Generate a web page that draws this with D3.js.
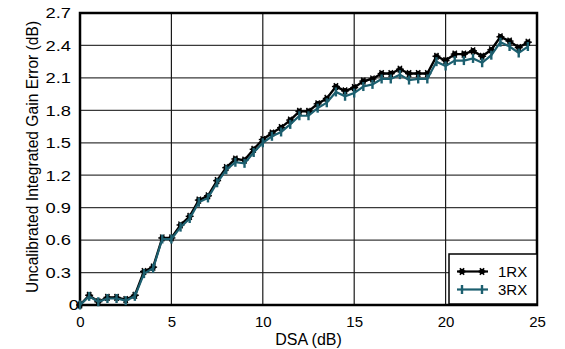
<!DOCTYPE html>
<html>
<head>
<meta charset="utf-8">
<script src="https://cdn.jsdelivr.net/npm/d3@7"></script>
<style>
  body { margin: 0; background: #fff; }
  text { font-family: "Liberation Sans", Arial, sans-serif; fill: #000; }
</style>
</head>
<body>
<svg id="chart"></svg>
<script>
var width = 565;
var height = 349;
var margin = {left: 80, right: 28, top: 13, bottom: 44};

// DSA settings (dB)
var dsa = [0, 0.5, 1, 1.5, 2, 2.5, 3, 3.5, 4, 4.5, 5, 5.5, 6, 6.5, 7, 7.5, 8, 8.5, 9, 9.5,
           10, 10.5, 11, 11.5, 12, 12.5, 13, 13.5, 14, 14.5, 15, 15.5, 16, 16.5, 17, 17.5, 18, 18.5, 19, 19.5,
           20, 20.5, 21, 21.5, 22, 22.5, 23, 23.5, 24, 24.5];
var rx1 = [0, 0.09, 0.03, 0.07, 0.07, 0.05, 0.09, 0.31, 0.35, 0.62, 0.62, 0.74, 0.82, 0.97, 1.01, 1.15, 1.27, 1.35, 1.34, 1.44,
           1.53, 1.59, 1.64, 1.71, 1.79, 1.79, 1.86, 1.91, 2.02, 1.98, 2.01, 2.07, 2.09, 2.14, 2.14, 2.18, 2.14, 2.14, 2.14, 2.30,
           2.26, 2.32, 2.32, 2.35, 2.30, 2.36, 2.48, 2.44, 2.38, 2.43];
var rx3 = [0, 0.08, 0.03, 0.06, 0.06, 0.04, 0.08, 0.29, 0.34, 0.61, 0.61, 0.72, 0.80, 0.95, 0.99, 1.13, 1.25, 1.32, 1.31, 1.41,
           1.50, 1.56, 1.60, 1.67, 1.75, 1.75, 1.82, 1.87, 1.97, 1.93, 1.96, 2.02, 2.04, 2.09, 2.09, 2.13, 2.08, 2.09, 2.09, 2.25,
           2.21, 2.26, 2.26, 2.28, 2.24, 2.31, 2.43, 2.39, 2.33, 2.39];
var xTicks = [0, 5, 10, 15, 20, 25];
var yTicks = [0, 0.3, 0.6, 0.9, 1.2, 1.5, 1.8, 2.1, 2.4, 2.7];
var seriesNames = ["1RX", "3RX"];
var colors = {"1RX": "#000000", "3RX": "#1c5f6f"};

var svg = d3.select("#chart").attr("width", width).attr("height", height);

var x = d3.scaleLinear().domain([0, 25]).range([margin.left, width - margin.right]);
var y = d3.scaleLinear().domain([0, 2.7]).range([height - margin.bottom, margin.top]);

// grid lines
svg.append("g")
    .selectAll("line")
    .data(yTicks)
    .enter()
    .append("line")
    .attr("x1", x(0)).attr("x2", x(25))
    .attr("y1", function (d) { return y(d); })
    .attr("y2", function (d) { return y(d); })
    .attr("stroke", "#3a3a3a").attr("stroke-width", 1.2);
svg.append("g")
    .selectAll("line")
    .data(xTicks)
    .enter()
    .append("line")
    .attr("y1", y(0)).attr("y2", y(2.7))
    .attr("x1", function (d) { return x(d); })
    .attr("x2", function (d) { return x(d); })
    .attr("stroke", "#1a1a1a").attr("stroke-width", 1.2);

// axes (labels only)
var xAxis = d3.axisBottom(x).tickValues(xTicks).tickSize(0).tickPadding(11).tickFormat(d3.format("d"));
var yAxis = d3.axisLeft(y).tickValues(yTicks).tickSize(0).tickPadding(9)
    .tickFormat(function (d) { return d === 0 ? "0" : d3.format(".1f")(d); });

svg.append("g").attr("transform", "translate(0," + y(0) + ")").call(xAxis)
    .call(function (g) { g.select(".domain").remove(); })
    .selectAll("text").attr("font-size", 15).attr("font-family", "Liberation Sans, Arial, sans-serif");

var yg = svg.append("g").attr("transform", "translate(" + x(0) + ",0)").call(yAxis);
yg.select(".domain").remove();
yg.selectAll("text")
    .attr("font-size", 15).attr("font-family", "Liberation Sans, Arial, sans-serif")
    .attr("x", function (d) { return d === 0 ? -1 : -9; })
    .each(function () {
        // the reference labels are drawn a bit wider than the plain font
        var w = this.getComputedTextLength();
        d3.select(this).attr("textLength", w * 1.22).attr("lengthAdjust", "spacingAndGlyphs");
    });

// plot frame
svg.append("rect")
    .attr("x", x(0)).attr("y", y(2.7))
    .attr("width", x(25) - x(0)).attr("height", y(0) - y(2.7))
    .attr("fill", "none").attr("stroke", "#000").attr("stroke-width", 2.5);

// axis titles
svg.append("text")
    .attr("x", (x(0) + x(25)) / 2).attr("y", 345)
    .attr("text-anchor", "middle").attr("font-size", 16)
    .text("DSA (dB)");
svg.append("text")
    .attr("transform", "translate(38," + (y(1.35) - 2) + ") rotate(-90)")
    .attr("text-anchor", "middle").attr("font-size", 15.6)
    .text("Uncalibrated Integrated Gain Error (dB)");

var line = d3.line()
    .x(function (d) { return x(d[0]); })
    .y(function (d) { return y(d[1]); });

var data1 = dsa.map(function (d, i) { return [d, rx1[i]]; });
var data3 = dsa.map(function (d, i) { return [d, rx3[i]]; });

// marker drawers
function starMarker(g, cx, cy) {
    g.append("circle").attr("cx", cx).attr("cy", cy).attr("r", 2.8).attr("fill", "#000");
    [0, 60, 120].forEach(function (a) {
        var r = a * Math.PI / 180, dx = Math.cos(r) * 4, dy = Math.sin(r) * 4;
        g.append("line").attr("x1", cx - dx).attr("x2", cx + dx).attr("y1", cy - dy).attr("y2", cy + dy)
            .attr("stroke", "#000").attr("stroke-width", 1.4);
    });
}
function tickMarker(g, cx, cy, color) {
    g.append("line").attr("x1", cx).attr("x2", cx).attr("y1", cy - 4.5).attr("y2", cy + 4.5)
        .attr("stroke", color).attr("stroke-width", 2.4);
}

// 1RX
svg.append("path").datum(data1).attr("d", line)
    .attr("fill", "none").attr("stroke", colors["1RX"]).attr("stroke-width", 2.4);
var m1 = svg.append("g");
data1.forEach(function (d) { starMarker(m1, x(d[0]), y(d[1])); });

// 3RX
svg.append("path").datum(data3).attr("d", line)
    .attr("fill", "none").attr("stroke", colors["3RX"]).attr("stroke-width", 2.2);
var m3 = svg.append("g");
data3.forEach(function (d) { tickMarker(m3, x(d[0]), y(d[1]), colors["3RX"]); });

// legend
var legend = svg.append("g").attr("transform", "translate(449,254)");
legend.append("rect").attr("width", 88).attr("height", 50)
    .attr("fill", "#fff").attr("stroke", "#000").attr("stroke-width", 1.5);
seriesNames.forEach(function (name, i) {
    var ly = 17.5 + i * 18;
    legend.append("line").attr("x1", 8).attr("x2", 39).attr("y1", ly).attr("y2", ly)
        .attr("stroke", colors[name]).attr("stroke-width", 2.2);
    [13, 33].forEach(function (mx) {
        if (name === "1RX") starMarker(legend, mx, ly);
        else tickMarker(legend, mx, ly, colors[name]);
    });
    legend.append("text").attr("x", 49).attr("y", ly + 5)
        .attr("font-size", 15).text(name);
});
</script>
</body>
</html>
